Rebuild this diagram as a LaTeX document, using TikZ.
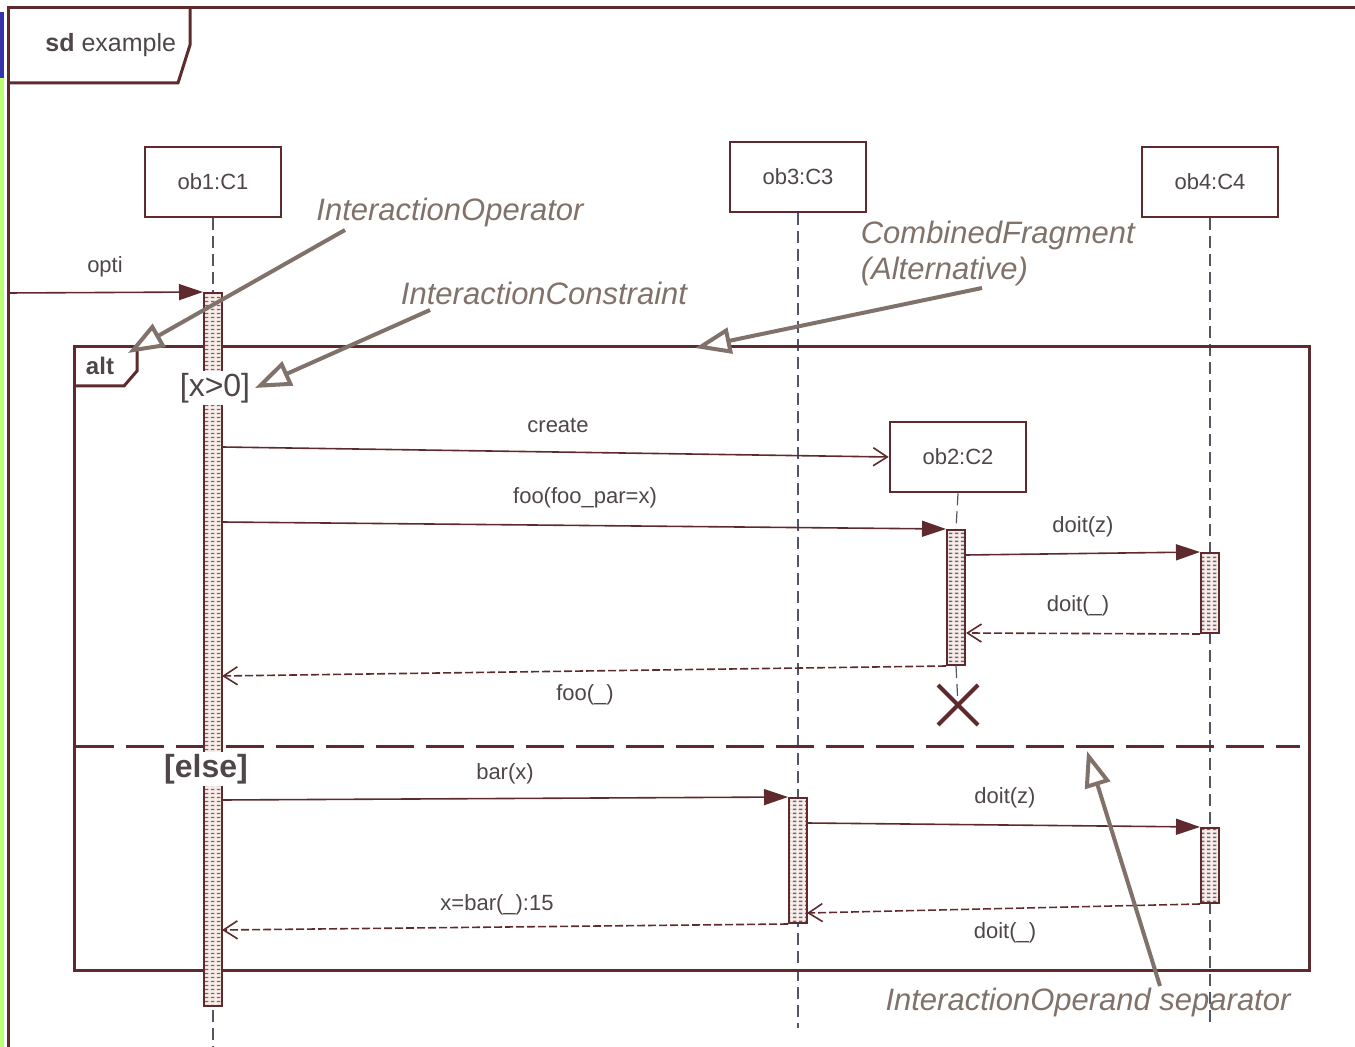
\documentclass[tikz,border=0pt]{standalone}
\usepackage{fontspec}
\setmainfont{Liberation Sans}
\usetikzlibrary{arrows.meta,patterns.meta}
\definecolor{umlline}{RGB}{95,42,45}
\definecolor{umltext}{RGB}{78,70,72}
\definecolor{notegray}{RGB}{128,114,106}
\definecolor{lifegray}{RGB}{80,86,98}
\definecolor{barpink}{RGB}{251,236,232}
\definecolor{bardot}{RGB}{85,110,128}
\tikzdeclarepattern{name=bardashes, type=uncolored,
  bottom left={(0pt,0pt)}, top right={(3pt,2pt)}, tile size={(3pt,2pt)},
  code={\draw[line width=0.8pt] (0.5pt,1pt) -- (2.5pt,1pt);}}
\begin{document}
\begin{tikzpicture}[x=0.5pt, y=-0.5pt, line width=0.8pt,
  lbl/.style={font=\fontsize{11}{13}\selectfont, text=umltext, inner sep=1pt},
  objbox/.style={draw=umlline, line width=1.3pt, fill=white, minimum width=68pt, minimum height=35pt, lbl},
  lifeline/.style={draw=lifegray, line width=0.6pt, dash pattern=on 6pt off 3pt},
  actbar/.style={draw=umlline, line width=1pt, minimum width=9pt, inner sep=0pt, preaction={fill=barpink}, pattern=bardashes, pattern color=bardot},
  call/.style={draw=umlline, -{Triangle[length=12pt, width=8pt]}},
  creat/.style={draw=umlline, -{Straight Barb[length=7pt, width=9pt]}},
  reply/.style={draw=umlline, dash pattern=on 4pt off 1.5pt, -{Straight Barb[length=7pt, width=9pt]}},
  guard/.style={font=\fontsize{16}{18}\selectfont, text=umltext, fill=white, inner sep=1pt},
  note/.style={font=\fontsize{15.5}{18}\selectfont\itshape, text=notegray, inner sep=0pt},
  notearrow/.style={draw=notegray, line width=2pt, -{Triangle[length=18pt, width=13pt, fill=white]}},
  frame/.style={draw=umlline, line width=1.5pt}]
\useasboundingbox (0,0) rectangle (1355,1047);
% scan edge
\fill[blue!60!black!80] (0,12) rectangle (4,78);
\fill[green!50!yellow!55] (0,78) rectangle (4,1047);
% sd frame
\draw[frame] (8,1047) -- (8,8) -- (1355,8);
\draw[frame] (8,83) -- (178,83) -- (190,45) -- (190,8);
\node[anchor=west, font=\fontsize{12.5}{15}\selectfont, text=umltext] (sdname) at (38,45) {\textbf{sd} example};

% lifelines
\node[objbox] (ob1) at (213,182) {ob1:C1};
\node[objbox] (ob3) at (798,177) {ob3:C3};
\node[objbox] (ob4) at (1210,182) {ob4:C4};
\coordinate (ob1end) at (213,1047);
\coordinate (ob3end) at (798,1028);
\coordinate (ob4end) at (1210,1025);
\draw[lifeline] (ob1.south) -- (ob1end);
\draw[lifeline] (ob3.south) -- (ob3end);
\draw[lifeline] (ob4.south) -- (ob4end);

% alt fragment
\draw[frame] (74,347) rectangle (1309,970);
\draw[frame] (74,386) -- (124,386) -- (137,371) -- (137,347);
\node[font=\fontsize{12}{14}\selectfont\bfseries, text=umltext] (altname) at (100,366) {alt};
\draw[umlline, line width=1.5pt, dash pattern=on 19pt off 6pt] (76,746) -- (1300,746);

% activations
\node[actbar, minimum height=356.5pt] (act1) at (213,649.5) {};
\node[objbox] (ob2) at (958,457) {ob2:C2};
\node[actbar, minimum height=67.5pt] (act2) at (956,597.5) {};
\node[actbar, minimum height=40pt] (act3) at (1210,593) {};
\node[actbar, minimum height=62.5pt] (act4) at (798,860.5) {};
\node[actbar, minimum height=37.5pt] (act5) at (1210,865.5) {};
\coordinate (kill) at (958,705);
\draw[lifeline] (ob2.south) -- (act2.north);
\draw[lifeline] (act2.south) -- (kill);
\draw[umlline, line width=2pt] ([shift={(-20,-20)}]kill) -- ([shift={(20,20)}]kill)
  ([shift={(20,-20)}]kill) -- ([shift={(-20,20)}]kill);

% guards
\node[guard] (g1) at (215,388) {[x>0]};
\node[guard, font=\fontsize{16}{18}\selectfont\bfseries] (g2) at (206,769) {[else]};

% messages
\coordinate (found) at (8,293);
\coordinate (c1) at (222,447);
\coordinate (f1) at (222,522);
\coordinate (d1) at (966,555);
\coordinate (d2) at (966,633);
\coordinate (f3) at (222,676);
\coordinate (b1) at (222,800);
\coordinate (e1) at (807,823);
\coordinate (e2) at (807,913);
\coordinate (b2) at (222,930);
\draw[call] (found) -- (act1.north west);
\draw[creat] (c1) -- (ob2.west);
\draw[call] (f1) -- (act2.north west);
\draw[call] (d1) -- (act3.north west);
\draw[reply] (act3.south west) -- (d2);
\draw[reply] (act2.south west) -- (f3);
\draw[call] (b1) -- (act4.north west);
\draw[call] (e1) -- (act5.north west);
\draw[reply] (act5.south west) -- (e2);
\draw[reply] (act4.south west) -- (b2);
\node[lbl] (m0) at (105,267) {opti};
\node[lbl] (m1) at (558,425) {create};
\node[lbl] (m2) at (585,498) {foo(foo\_par=x)};
\node[lbl] (m3) at (1083,527) {doit(z)};
\node[lbl] (m4) at (1078,606) {doit(\_)};
\node[lbl] (m5) at (585,695) {foo(\_)};
\node[lbl] (m6) at (505,774) {bar(x)};
\node[lbl] (m7) at (1005,798) {doit(z)};
\node[lbl] (m8) at (497,905) {x=bar(\_):15};
\node[lbl] (m9) at (1005,933) {doit(\_)};

% annotations
\node[note] (n1) at (450,212) {InteractionOperator};
\node[note] (n2) at (544,293) {InteractionConstraint};
\node[note, anchor=west, align=left] (n3) at (860,253) {CombinedFragment\\(Alternative)};
\node[note] (n4) at (1088,1002) {InteractionOperand separator};
\coordinate (n1from) at (345,230);
\coordinate (n1to) at (128,353);
\coordinate (n2from) at (430,310);
\coordinate (n2to) at (255,388);
\coordinate (n3from) at (982,288);
\coordinate (n3to) at (695,348);
\coordinate (n4from) at (1160,986);
\coordinate (n4to) at (1087,751);
\draw[notearrow] (n1from) -- (n1to);
\draw[notearrow] (n2from) -- (n2to);
\draw[notearrow] (n3from) -- (n3to);
\draw[notearrow] (n4from) -- (n4to);
\end{tikzpicture}
\end{document}
